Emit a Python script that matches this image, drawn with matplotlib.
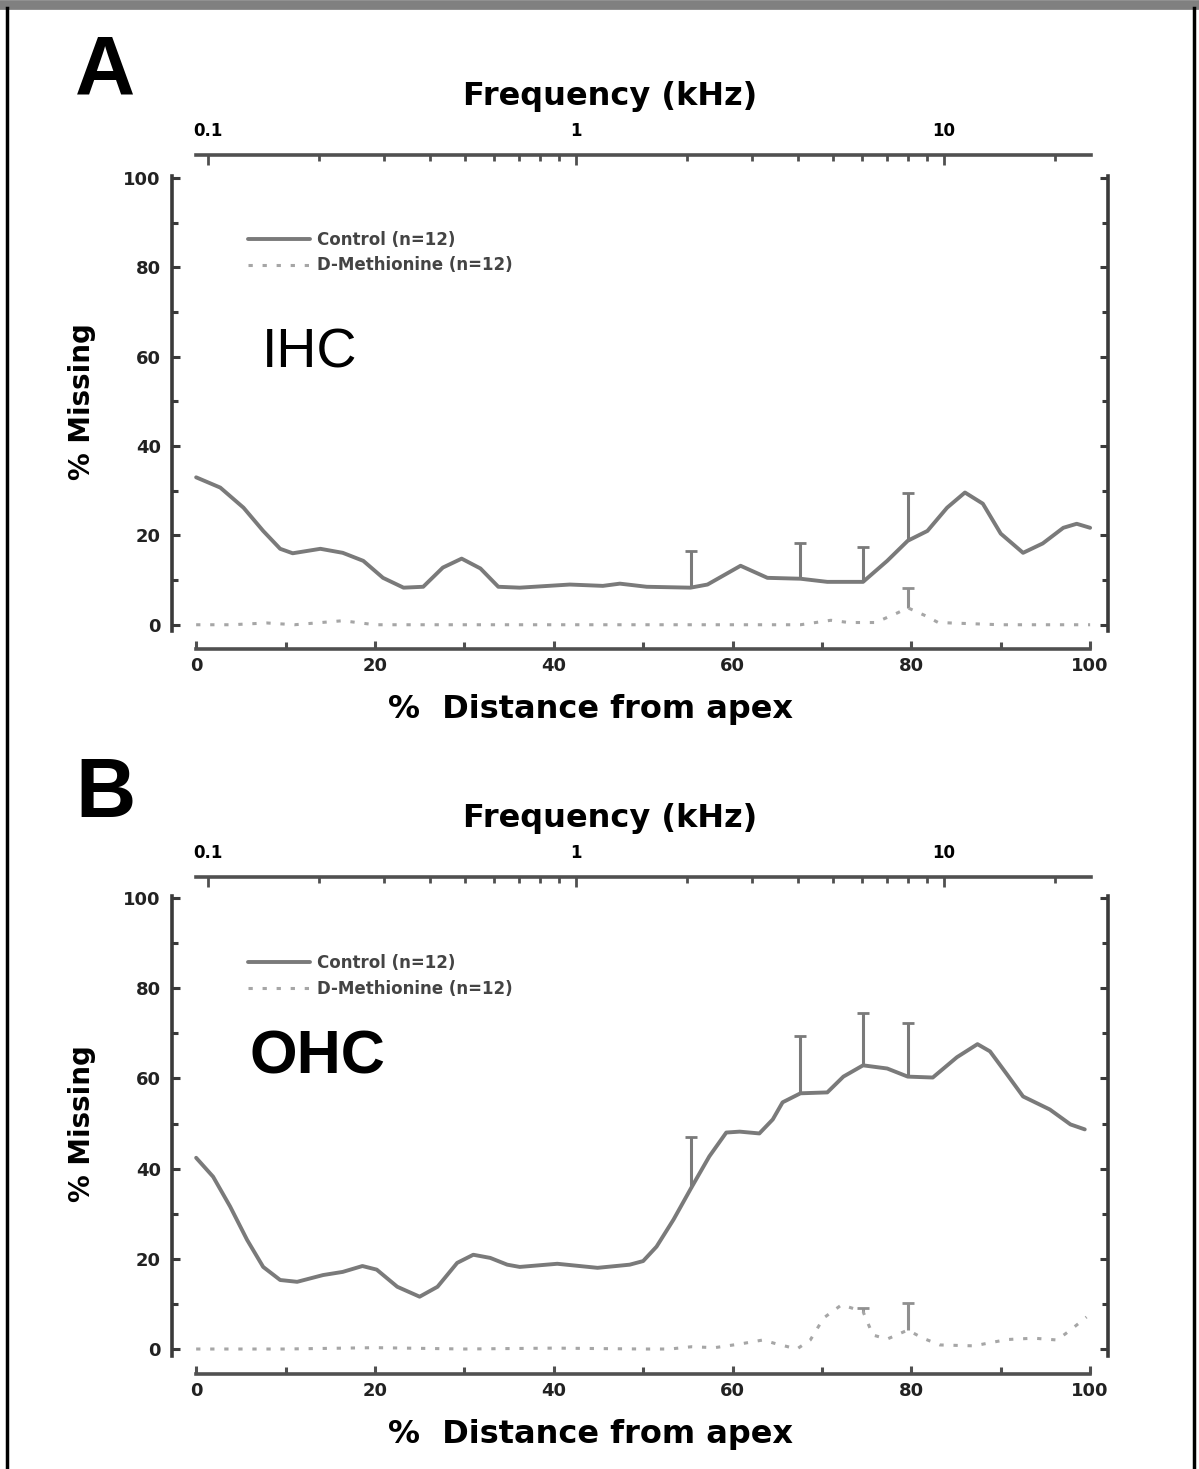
import matplotlib

matplotlib.use("Agg")
import matplotlib.pyplot as plt
from matplotlib.lines import Line2D
from matplotlib.ticker import FixedLocator, LogLocator, NullFormatter

plt.rcParams["font.family"] = ["DejaVu Sans"]

# ---- data ----
# panel A: inner hair cells (IHC)
ihc_ctrl_x = [0, 2.7, 5.3, 7.5, 9.4, 10.8, 13.9, 16.4, 18.7, 20.9, 23.2, 25.4, 27.6,
              29.7, 31.8, 33.8, 36.2, 41.8, 45.5, 47.4, 50.4, 55.3, 57.2, 60.9, 63.9,
              67.6, 70.6, 74.6, 77.3, 79.6, 81.8, 84, 86, 88, 90, 92.5, 94.7, 97, 98.5, 100]
ihc_ctrl_y = [33.0, 30.7, 26.2, 21.0, 17.0, 16.0, 17.0, 16.1, 14.3, 10.5, 8.3, 8.5, 12.8,
              14.8, 12.6, 8.5, 8.3, 9.0, 8.7, 9.2, 8.5, 8.3, 9.0, 13.2, 10.5,
              10.3, 9.6, 9.6, 14.3, 18.8, 21.0, 26.2, 29.6, 27.1, 20.4, 16.1, 18.2, 21.7, 22.6, 21.7]
ihc_ctrl_err_x = [55.3, 67.6, 74.6, 79.6]
ihc_ctrl_err_y = [8.3, 10.3, 9.6, 18.8]
ihc_ctrl_err = [8.1, 8.1, 7.9, 10.6]

ihc_dmet_x = [0, 4, 7.9, 11, 16.4, 20, 30, 40, 50, 60, 67.6, 71, 73, 76, 78.5, 79.6,
              81.6, 83, 90, 100]
ihc_dmet_y = [0, 0, 0.4, 0, 0.9, 0, 0, 0, 0, 0, 0, 1.0, 0.5, 0.5, 2.7, 3.8,
              2.0, 0.5, 0, 0]
ihc_dmet_err_x = [79.6]
ihc_dmet_err_y = [3.8]
ihc_dmet_err = [4.5]

# panel B: outer hair cells (OHC)
ohc_ctrl_x = [0, 1.9, 3.8, 5.7, 7.5, 9.4, 11.3, 14.2, 16.4, 18.6, 20.2, 22.5, 25, 27,
              29.2, 31, 32.9, 34.8, 36.2, 40.4, 44.9, 48.5, 50.0, 51.5, 53.4, 55.4, 57.4,
              59.3, 60.8, 63, 64.5, 65.6, 67.6, 70.6, 72.4, 74.6, 77.3, 79.6, 82.4, 85.1,
              87.4, 88.8, 90.7, 92.5, 95.5, 97.8, 99.4]
ohc_ctrl_y = [42.4, 38.2, 31.6, 24.2, 18.2, 15.3, 14.9, 16.4, 17.1, 18.4, 17.6, 13.8, 11.6, 13.8,
              19.1, 20.9, 20.2, 18.7, 18.2, 18.9, 18.0, 18.7, 19.5, 22.7, 28.7, 35.8, 42.7,
              48.0, 48.2, 47.8, 50.9, 54.7, 56.7, 56.9, 60.4, 62.9, 62.2, 60.4, 60.2, 64.7,
              67.6, 66.0, 60.9, 56.0, 53.1, 49.8, 48.7]
ohc_ctrl_err_x = [55.4, 67.6, 74.6, 79.6]
ohc_ctrl_err_y = [35.8, 56.7, 62.9, 60.4]
ohc_ctrl_err = [11.3, 12.6, 11.5, 12.0]

ohc_dmet_x = [0, 10, 20, 30, 40, 50, 53, 55.4, 58, 60.8, 63.4, 64.8, 67.2, 68.7, 70.2,
              72.2, 74.6, 75.7, 77.3, 79.6, 81.3, 83.2, 87, 90.7, 93.7, 96.3, 97.8, 99.6]
ohc_dmet_y = [0, 0, 0.3, 0, 0.2, 0, 0, 0.5, 0.3, 1.1, 2.0, 1.2, 0, 2.0, 6.9,
              9.8, 8.3, 3.1, 2.2, 4.2, 2.4, 0.9, 0.7, 2.1, 2.4, 2.0, 4.2, 7.1]
ohc_dmet_err_x = [74.6, 79.6]
ohc_dmet_err_y = [8.3, 4.2]
ohc_dmet_err = [0.8, 6.1]

y_ticks = [0, 20, 40, 60, 80, 100]
x_ticks = [0, 20, 40, 60, 80, 100]
freq_ticks = [0.1, 1, 10]
freq_labels = ["0.1", "1", "10"]
legend_labels = ["Control (n=12)", "D-Methionine (n=12)"]

W, H = 1199, 1469
CTRL_COLOR = "#7a7a7a"
DMET_COLOR = "#a6a6a6"
AXIS_COLOR = "#3a3a3a"
LINE_COLOR = "#505050"


def fx(px):
    return px / W


def fy(py):
    return 1 - py / H


def up_errorbar(ax, x, y, err, color):
    # only the upper half of the error bar is drawn in the original
    _, caps, _ = ax.errorbar(x, y, yerr=[[0] * len(err), err], fmt="none", ecolor=color,
                             elinewidth=2.2, capsize=4.5, capthick=2, zorder=2)
    caps[0].set_visible(False)


def draw_panel(fig, top_px, bottom_px, ylim, freq_y, letter, letter_y, cell,
               cell_pos, cell_size, cell_weight, legend_top, ctrl, dmet):
    ax = fig.add_axes([fx(172), fy(bottom_px), fx(1108 - 172), (bottom_px - top_px) / H])
    ax.set_xlim(-2.7, 102.0)
    ax.set_ylim(*ylim)

    cx, cy, cex, cey, ce = ctrl
    dx, dy, dex, dey, de = dmet
    ax.plot(cx, cy, color=CTRL_COLOR, lw=2.8, solid_capstyle="round",
            solid_joinstyle="round", label=legend_labels[0], zorder=3)
    ax.plot(dx, dy, color=DMET_COLOR, lw=2.2, dashes=(1.4, 3.2),
            label=legend_labels[1], zorder=3)
    up_errorbar(ax, cex, cey, ce, CTRL_COLOR)
    up_errorbar(ax, dex, dey, de, "#909090")

    # spines
    for side in ("left", "right"):
        ax.spines[side].set_linewidth(2.6)
        ax.spines[side].set_color(AXIS_COLOR)
    ax.spines["top"].set_visible(False)
    ax.spines["bottom"].set_position(("outward", 13))
    ax.spines["bottom"].set_bounds(0, 100)
    ax.spines["bottom"].set_linewidth(2.6)
    ax.spines["bottom"].set_color(LINE_COLOR)

    ax.set_yticks(y_ticks)
    ax.yaxis.set_minor_locator(FixedLocator([10, 30, 50, 70, 90]))
    ax.tick_params(axis="y", which="both", direction="in", left=True, right=True,
                   color=AXIS_COLOR, width=2.2, labelsize=13, pad=8)
    ax.tick_params(axis="y", which="major", length=6)
    ax.tick_params(axis="y", which="minor", length=4)
    ax.set_xticks(x_ticks)
    ax.xaxis.set_minor_locator(FixedLocator([10, 30, 50, 70, 90]))
    ax.tick_params(axis="x", which="both", direction="in", color=LINE_COLOR,
                   width=2.2, labelsize=13, pad=6)
    ax.tick_params(axis="x", which="major", length=6)
    ax.tick_params(axis="x", which="minor", length=5)
    for lab in ax.get_xticklabels() + ax.get_yticklabels():
        lab.set_fontweight("bold")
        lab.set_color("#222222")

    ax.legend(loc="upper left", bbox_to_anchor=(fx(248), fy(legend_top)),
              bbox_transform=fig.transFigure, frameon=False,
              prop={"weight": "bold", "size": 12}, handlelength=3.7,
              handletextpad=0.45, labelspacing=0.45, borderpad=0, borderaxespad=0,
              labelcolor="#444444")

    # frequency scale on top
    h = 0.004
    axt = fig.add_axes([fx(196), fy(freq_y) - h, fx(1091 - 196), h])
    axt.set_xscale("log")
    axt.set_xlim(0.0927, 25.08)
    axt.patch.set_visible(False)
    for side in ("left", "right", "bottom"):
        axt.spines[side].set_visible(False)
    axt.spines["top"].set_linewidth(2.6)
    axt.spines["top"].set_color(LINE_COLOR)
    axt.set_yticks([])
    axt.xaxis.tick_top()
    axt.set_xticks(freq_ticks, labels=freq_labels)
    axt.xaxis.set_minor_locator(LogLocator(subs=range(2, 10)))
    axt.xaxis.set_minor_formatter(NullFormatter())
    axt.tick_params(axis="x", which="both", direction="in", color=LINE_COLOR,
                    width=2, labelsize=12, pad=11)
    axt.tick_params(axis="x", which="major", length=7)
    axt.tick_params(axis="x", which="minor", length=4)
    for lab in axt.get_xticklabels():
        lab.set_fontweight("bold")

    fig.text(fx(610), fy(freq_y - 58), "Frequency (kHz)", ha="center", va="center",
             fontsize=23, fontweight="bold")
    fig.text(fx(590), fy(bottom_px + 78), "%  Distance from apex", ha="center",
             va="center", fontsize=23, fontweight="bold")
    fig.text(fx(82), fy((top_px + bottom_px) / 2 - 2), "% Missing", ha="center",
             va="center", rotation=90, fontsize=20, fontweight="bold")
    fig.text(fx(105), fy(letter_y), letter, ha="center", va="center", fontsize=60,
             fontweight="bold", family="Liberation Sans")
    fig.text(fx(cell_pos[0]), fy(cell_pos[1]), cell, ha="left", va="center",
             fontsize=cell_size, fontweight=cell_weight, family="Liberation Sans")
    return ax


fig = plt.figure(figsize=(W / 100, H / 100), dpi=100, facecolor="white")

draw_panel(fig, 176, 631, (-1.4, 100.45), 155, "A", 73, "IHC", (262, 353), 40, "normal", 231,
           (ihc_ctrl_x, ihc_ctrl_y, ihc_ctrl_err_x, ihc_ctrl_err_y, ihc_ctrl_err),
           (ihc_dmet_x, ihc_dmet_y, ihc_dmet_err_x, ihc_dmet_err_y, ihc_dmet_err))
draw_panel(fig, 896, 1356, (-1.55, 100.45), 877, "B", 795, "OHC", (250, 1058), 44, "bold", 954,
           (ohc_ctrl_x, ohc_ctrl_y, ohc_ctrl_err_x, ohc_ctrl_err_y, ohc_ctrl_err),
           (ohc_dmet_x, ohc_dmet_y, ohc_dmet_err_x, ohc_dmet_err_y, ohc_dmet_err))

# frame around the figure
fig.add_artist(Line2D([0, 1], [fy(5), fy(5)], transform=fig.transFigure,
                      color="#808080", lw=7))
fig.add_artist(Line2D([fx(7), fx(7)], [fy(8), 0], transform=fig.transFigure,
                      color="black", lw=2.5))
fig.add_artist(Line2D([fx(1194), fx(1194)], [fy(8), 0], transform=fig.transFigure,
                      color="black", lw=2.5))

fig.savefig("out.png", dpi=100, facecolor="white")
